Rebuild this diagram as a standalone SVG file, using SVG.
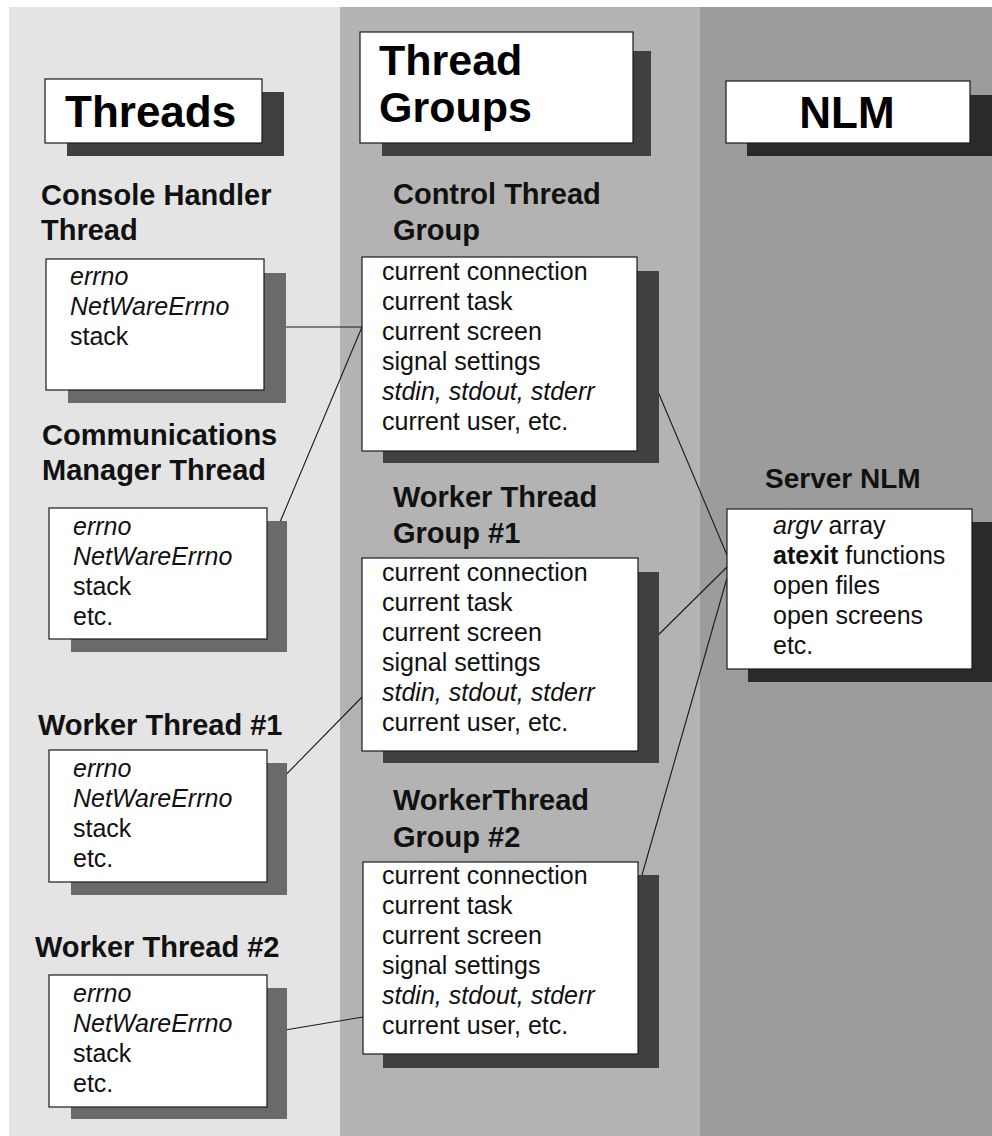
<svg xmlns="http://www.w3.org/2000/svg" width="992" height="1136" viewBox="0 0 992 1136">
<style>
.box{fill:#fff;stroke:#1a1a1a;stroke-width:1.2}
.shL{fill:#6a6a6a}.shM{fill:#404040}.shR{fill:#2a2a2a}
.title{font-family:"Liberation Sans",Arial,sans-serif;font-weight:bold;font-size:44px;fill:#000}
.lbl{font-family:"Liberation Sans",Arial,sans-serif;font-weight:bold;font-size:29px;fill:#111}
.it{font-family:"Liberation Sans",Arial,sans-serif;font-size:25px;fill:#111}
.i{font-style:italic}.b{font-weight:bold}
.conn line{stroke:#1a1a1a;stroke-width:1.1}
</style>
<rect x="0" y="0" width="992" height="1136" fill="#fff"/>
<rect x="9" y="7" width="331" height="1129" fill="#e4e4e4"/>
<rect x="340" y="7" width="360" height="1129" fill="#b3b3b3"/>
<rect x="700" y="7" width="292" height="1129" fill="#9c9c9c"/>

<g id="connectors" class="conn">
<line x1="264" y1="327" x2="362" y2="327"/>
<line x1="267" y1="553" x2="362" y2="327"/>
<line x1="267" y1="794" x2="362" y2="697"/>
<line x1="267" y1="1033" x2="363" y2="1017"/>
<line x1="637" y1="342" x2="727" y2="555"/>
<line x1="638" y1="655" x2="727" y2="567"/>
<line x1="640" y1="882" x2="727" y2="578"/>
</g>

<g id="title-threads">
<rect class="shM" x="67" y="92" width="217" height="64"/>
<rect class="box" x="45" y="79" width="217" height="64"/>
<text class="title" x="65" y="127">Threads</text>
</g>
<g id="title-thread-groups">
<rect class="shM" x="382" y="51" width="269" height="105"/>
<rect class="box" x="360" y="32" width="273" height="111"/>
<text class="title" x="379" y="75" style="font-size:43px">Thread</text>
<text class="title" x="379" y="122" style="font-size:43px">Groups</text>
</g>
<g id="title-nlm">
<rect class="shR" x="747" y="95" width="245" height="61"/>
<rect class="box" x="726" y="81" width="244" height="62"/>
<text class="title" x="847" y="128" text-anchor="middle">NLM</text>
</g>

<g id="console-handler-thread">
<text class="lbl" x="41" y="205">Console Handler</text>
<text class="lbl" x="41" y="240">Thread</text>
<rect class="shL" x="68" y="273" width="218" height="130"/>
<rect class="box" x="46" y="259" width="218" height="131"/>
<text class="it i" x="70" y="285">errno</text>
<text class="it i" x="70" y="315">NetWareErrno</text>
<text class="it" x="70" y="345">stack</text>
</g>

<g id="communications-manager-thread">
<text class="lbl" x="42" y="445">Communications</text>
<text class="lbl" x="42" y="480">Manager Thread</text>
<rect class="shL" x="71" y="521" width="216" height="131"/>
<rect class="box" x="49" y="508" width="218" height="131"/>
<text class="it i" x="73" y="535">errno</text>
<text class="it i" x="73" y="565">NetWareErrno</text>
<text class="it" x="73" y="595">stack</text>
<text class="it" x="73" y="625">etc.</text>
</g>

<g id="worker-thread-1">
<text class="lbl" x="38" y="735">Worker Thread #1</text>
<rect class="shL" x="71" y="763" width="216" height="132"/>
<rect class="box" x="49" y="750" width="218" height="132"/>
<text class="it i" x="73" y="777">errno</text>
<text class="it i" x="73" y="807">NetWareErrno</text>
<text class="it" x="73" y="837">stack</text>
<text class="it" x="73" y="867">etc.</text>
</g>

<g id="worker-thread-2">
<text class="lbl" x="35" y="957">Worker Thread #2</text>
<rect class="shL" x="71" y="988" width="216" height="131"/>
<rect class="box" x="49" y="975" width="218" height="132"/>
<text class="it i" x="73" y="1002">errno</text>
<text class="it i" x="73" y="1032">NetWareErrno</text>
<text class="it" x="73" y="1062">stack</text>
<text class="it" x="73" y="1092">etc.</text>
</g>

<g id="control-thread-group">
<text class="lbl" x="393" y="204">Control Thread</text>
<text class="lbl" x="393" y="240">Group</text>
<rect class="shM" x="383" y="271" width="276" height="192"/>
<rect class="box" x="362" y="257" width="275" height="194"/>
<text class="it" x="382" y="280">current connection</text>
<text class="it" x="382" y="310">current task</text>
<text class="it" x="382" y="340">current screen</text>
<text class="it" x="382" y="370">signal settings</text>
<text class="it i" x="382" y="400">stdin, stdout, stderr</text>
<text class="it" x="382" y="430">current user, etc.</text>
</g>

<g id="worker-thread-group-1">
<text class="lbl" x="393" y="507">Worker Thread</text>
<text class="lbl" x="393" y="543">Group #1</text>
<rect class="shM" x="383" y="572" width="276" height="191"/>
<rect class="box" x="362" y="558" width="276" height="193"/>
<text class="it" x="382" y="581">current connection</text>
<text class="it" x="382" y="611">current task</text>
<text class="it" x="382" y="641">current screen</text>
<text class="it" x="382" y="671">signal settings</text>
<text class="it i" x="382" y="701">stdin, stdout, stderr</text>
<text class="it" x="382" y="731">current user, etc.</text>
</g>

<g id="worker-thread-group-2">
<text class="lbl" x="393" y="810">WorkerThread</text>
<text class="lbl" x="393" y="847">Group #2</text>
<rect class="shM" x="383" y="875" width="276" height="193"/>
<rect class="box" x="363" y="862" width="275" height="192"/>
<text class="it" x="382" y="884">current connection</text>
<text class="it" x="382" y="914">current task</text>
<text class="it" x="382" y="944">current screen</text>
<text class="it" x="382" y="974">signal settings</text>
<text class="it i" x="382" y="1004">stdin, stdout, stderr</text>
<text class="it" x="382" y="1034">current user, etc.</text>
</g>

<g id="server-nlm">
<text class="lbl" x="765" y="488" style="font-size:28px">Server NLM</text>
<rect class="shR" x="748" y="522" width="244" height="160"/>
<rect class="box" x="727" y="509" width="245" height="160"/>
<text class="it" x="773" y="534"><tspan class="i">argv</tspan> array</text>
<text class="it" x="773" y="564"><tspan class="b">atexit</tspan> functions</text>
<text class="it" x="773" y="594">open files</text>
<text class="it" x="773" y="624">open screens</text>
<text class="it" x="773" y="654">etc.</text>
</g>
</svg>
